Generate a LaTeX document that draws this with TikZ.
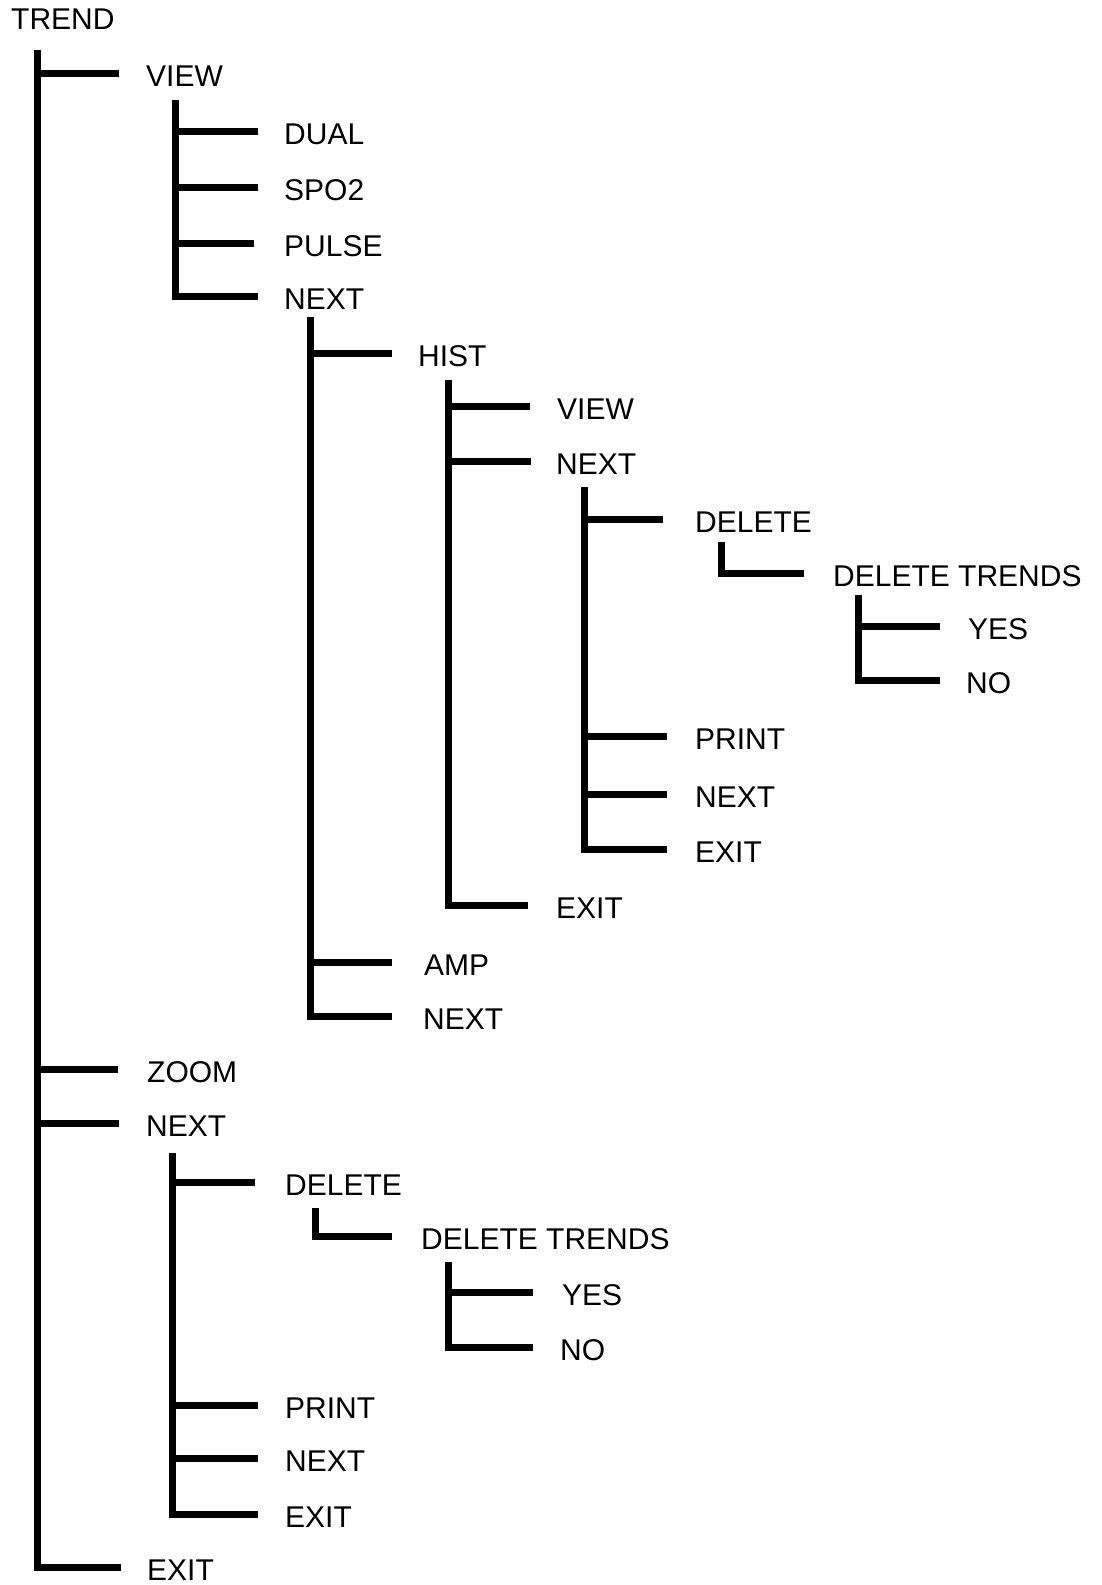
\documentclass[tikz,border=0pt]{standalone}
\usepackage{fontspec}
\setmainfont{Liberation Sans}
\begin{document}
\begin{tikzpicture}[x=1pt,y=-1pt,
  lbl/.style={anchor=west,inner sep=0pt,text height=21.5pt,text depth=0pt,
              font=\fontsize{30}{31}\selectfont},
  br/.style={line width=7pt,line join=miter,line cap=butt}]
\useasboundingbox[fill=white] (0,0) rectangle (1102,1585);
\newcommand\branch[3]{\draw[br] (#1) |- ([xshift=-#3pt,yshift=3pt]#2.west);}

% ---- labels ----
\node[lbl] (trend)  at (11,19)    {TREND};
\node[lbl] (view1)  at (146,76)   {VIEW};
\node[lbl] (dual)   at (284,134)  {DUAL};
\node[lbl] (spo2)   at (284,190)  {SPO2};
\node[lbl] (pulse)  at (284,246)  {PULSE};
\node[lbl] (next1)  at (284,299)  {NEXT};
\node[lbl] (hist)   at (418,356)  {HIST};
\node[lbl] (viewh)  at (557,409)  {VIEW};
\node[lbl] (nexth)  at (556,464)  {NEXT};
\node[lbl] (deleteh) at (695,522) {DELETE};
\node[lbl] (dth)    at (833,576)  {DELETE TRENDS};
\node[lbl] (yesh)   at (968,629)  {YES};
\node[lbl] (noh)    at (966,683)  {NO};
\node[lbl] (printh) at (695,739)  {PRINT};
\node[lbl] (nexthh) at (695,797)  {NEXT};
\node[lbl] (exithh) at (695,852)  {EXIT};
\node[lbl] (exith)  at (556,908)  {EXIT};
\node[lbl] (amp)    at (424,965)  {AMP};
\node[lbl] (next2b) at (423,1019) {NEXT};
\node[lbl] (zoom)   at (147,1072) {ZOOM};
\node[lbl] (next1b) at (146,1126) {NEXT};
\node[lbl] (deleteb) at (285,1185) {DELETE};
\node[lbl] (dtb)    at (421,1239) {DELETE TRENDS};
\node[lbl] (yesb)   at (562,1295) {YES};
\node[lbl] (nob)    at (560,1350) {NO};
\node[lbl] (printb) at (285,1408) {PRINT};
\node[lbl] (nextbb) at (285,1461) {NEXT};
\node[lbl] (exitbb) at (285,1517) {EXIT};
\node[lbl] (exit0)  at (147,1570) {EXIT};

% ---- trunk tops ----
\coordinate (t0)   at (37,50);
\coordinate (tv)   at (175,100);
\coordinate (tn)   at (310,317);
\coordinate (th)   at (448,380);
\coordinate (tnh)  at (584,487);
\coordinate (tdh)  at (721,542);
\coordinate (tdth) at (858,595);
\coordinate (tnb)  at (172,1153);
\coordinate (tdb)  at (315,1208);
\coordinate (tdtb) at (448,1262);

% ---- connectors ----
\branch{t0}{view1}{27}
\branch{t0}{zoom}{29}
\branch{t0}{next1b}{27}
\branch{t0}{exit0}{26}
\branch{tv}{dual}{26}
\branch{tv}{spo2}{26}
\branch{tv}{pulse}{30}
\branch{tv}{next1}{26}
\branch{tn}{hist}{26}
\branch{tn}{amp}{32}
\branch{tn}{next2b}{31}
\branch{th}{viewh}{27}
\branch{th}{nexth}{25}
\branch{th}{exith}{28}
\branch{tnh}{deleteh}{32}
\branch{tnh}{printh}{28}
\branch{tnh}{nexthh}{28}
\branch{tnh}{exithh}{28}
\branch{tdh}{dth}{29}
\branch{tdth}{yesh}{28}
\branch{tdth}{noh}{26}
\branch{tnb}{deleteb}{30}
\branch{tnb}{printb}{27}
\branch{tnb}{nextbb}{27}
\branch{tnb}{exitbb}{27}
\branch{tdb}{dtb}{29}
\branch{tdtb}{yesb}{29}
\branch{tdtb}{nob}{27}
\end{tikzpicture}
\end{document}
